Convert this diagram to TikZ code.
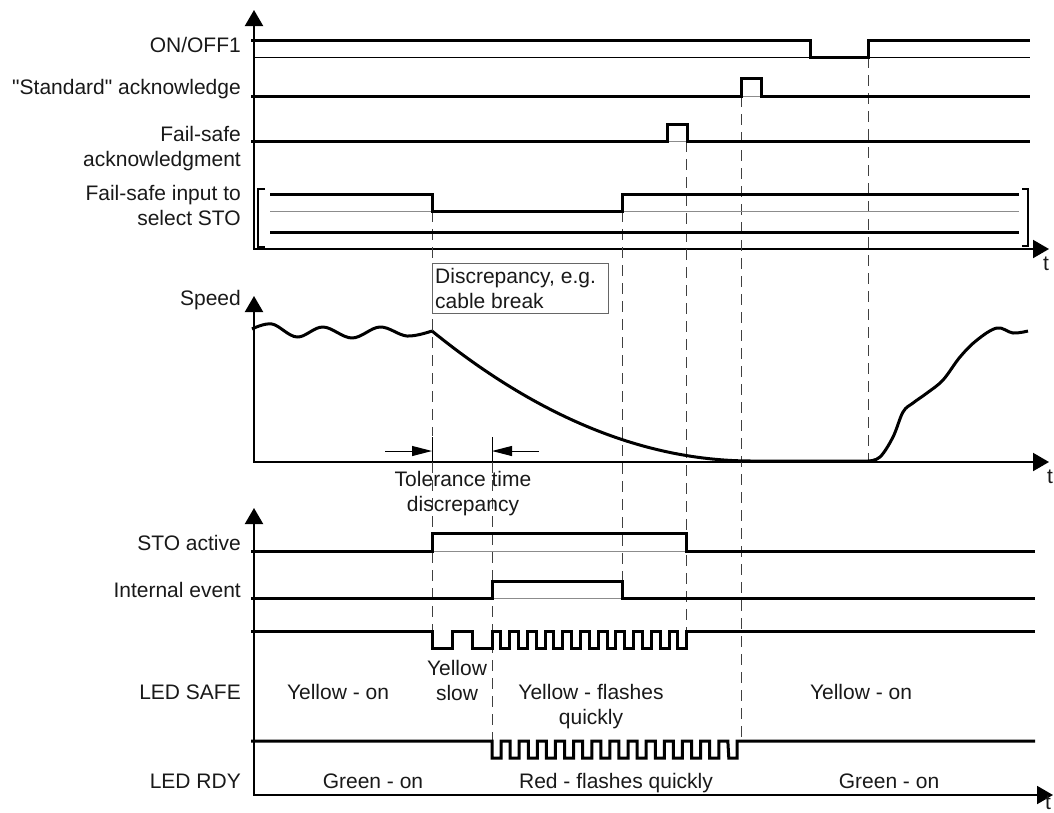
\documentclass[tikz,border=0pt]{standalone}
\usepackage{fontspec}
\setmainfont{Liberation Sans}[Ligatures=TeXOff]
\usetikzlibrary{arrows.meta}
\begin{document}
\begin{tikzpicture}[x=1pt,y=-1pt,
  every node/.style={font=\fontsize{21}{25}\selectfont, inner sep=0pt, text=black!90},
  sig/.style={line width=3pt, line join=miter, line cap=butt},
  ax/.style={line width=2pt},
  tri/.tip={Triangle[width=18pt,length=16pt]},
  dsh/.style={line width=1pt, black!75, dash pattern=on 11pt off 7pt},
  lowline/.style={line width=1pt, black!45},
  lbl/.style={anchor=base east},
  txt/.style={anchor=base},
  tol/.style={line width=1pt, -{Triangle[width=10pt,length=20pt]}}]
\useasboundingbox (0,0) rectangle (1054,812);

% ---------- axes ----------
\draw[ax, tri-tri] (254,10) -- (254,249) -- (1049,249);
\draw[ax, tri-tri] (254,296) -- (254,462) -- (1049,462);
\draw[ax, tri-tri] (254,508) -- (254,795) -- (1053,795);
\node[txt] (t1) at (1046,270) {t};
\node[txt] (t2) at (1050,483) {t};
\node[txt] (t3) at (1048,809) {t};

% ---------- dashed time markers ----------
\draw[dsh] (432,211) -- (432,436);
\draw[dsh] (432,462) -- (432,631);
\draw[dsh] (492,462) -- (492,740);
\draw[dsh] (622,211) -- (622,598);
\draw[dsh] (686,141) -- (686,631);
\draw[dsh] (741,96) -- (741,741);
\draw[dsh] (868,57) -- (868,462);

% ---------- top signals ----------
\node[lbl] (lon) at (241,52) {ON/OFF1};
\draw[line width=1pt] (254,57) -- (1030,57);
\draw[sig] (251,40) -- (810,40) -- (810,57) -- (868,57) -- (868,40) -- (1030,40);

\node[lbl] (lstd) at (241,94) {"Standard" acknowledge};
\draw[lowline] (741,96) -- (761,96);
\draw[sig] (251,96) -- (741,96) -- (741,78) -- (761,78) -- (761,96) -- (1030,96);

\node[lbl] (lfs1) at (241,141) {Fail-safe};
\node[lbl] (lfs2) at (241,166) {acknowledgment};
\draw[lowline] (667,141) -- (687,141);
\draw[sig] (251,141) -- (667,141) -- (667,124) -- (687,124) -- (687,141) -- (1030,141);

\node[lbl] (lsto1) at (241,200) {Fail-safe input to};
\node[lbl] (lsto2) at (241,225) {select STO};
\draw[lowline] (270,211) -- (1019,211);
\draw[sig] (270,194) -- (432,194) -- (432,211) -- (622,211) -- (622,194) -- (1019,194);
\draw[sig] (270,232) -- (1019,232);
\draw[line width=1.5pt] (265,189) -- (258,189) -- (258,247) -- (265,247);
\draw[line width=1.5pt] (1022,189) -- (1028,189) -- (1028,246) -- (1022,246);

% ---------- speed ----------
\node[lbl] (lspd) at (241,305) {Speed};
\draw[line width=3pt, line join=round] plot[smooth, tension=0.6] coordinates
  {(252,329) (272,324) (297,337) (323,327) (352,338) (380,327) (407,336) (432,331)};
\draw[line width=3pt, line join=round] (432,331) .. controls (538.7,417.7) and (645.3,461) .. (752,461) -- (868,461);
\draw[line width=3pt, line join=round] plot[smooth, tension=0.6] coordinates
  {(868,461) (880,457) (893,437) (903,412) (913,403) (927,393) (943,380) (960,357) (977,340) (997,328) (1013,333) (1028,331)};

\draw[line width=1pt, black!60] (432,263) rectangle (608,313);
\node[anchor=base west] (d1) at (435,283) {Discrepancy, e.g.};
\node[anchor=base west] (d2) at (435,308) {cable break};

\draw[line width=1pt] (432,437) -- (432,462);
\draw[line width=1pt] (492,437) -- (492,462);
\draw[tol] (385,451) -- (432,451);
\draw[tol] (539,451) -- (492,451);
\node[txt] (tt1) at (463,486) {Tolerance time};
\node[txt] (tt2) at (463,511) {discrepancy};

% ---------- STO active / internal event ----------
\node[lbl] (lsa) at (241,550) {STO active};
\draw[lowline] (432,551) -- (686,551);
\draw[sig] (251,551) -- (432,551) -- (432,533) -- (686,533) -- (686,551) -- (1035,551);

\node[lbl] (lie) at (241,597) {Internal event};
\draw[lowline] (492,598) -- (622,598);
\draw[sig] (251,598) -- (492,598) -- (492,581) -- (622,581) -- (622,598) -- (1035,598);

% ---------- LED SAFE ----------
\node[lbl] (lsafe) at (241,699) {LED SAFE};
\draw[sig] (251,631) -- (432,631) -- (432,648) -- (452,648) -- (452,631) -- (472,631) -- (472,648) -- (492,648) -- (492,631)
  \foreach \i in {0,...,10} {
    -- ({492+(2*\i+1)*8.85},631) -- ({492+(2*\i+1)*8.85},648)
    -- ({492+(2*\i+2)*8.85},648) -- ({492+(2*\i+2)*8.85},631) }
  -- (1035,631);
\node[txt] (ys1) at (338,699) {Yellow - on};
\node[txt] (ys2) at (457,675) {Yellow};
\node[txt] (ys3) at (457,700) {slow};
\node[txt] (ys4) at (591,699) {Yellow - flashes};
\node[txt] (ys5) at (591,724) {quickly};
\node[txt] (ys6) at (861,699) {Yellow - on};

% ---------- LED RDY ----------
\node[lbl] (lrdy) at (241,788) {LED RDY};
\draw[sig] (251,741) -- (492,741)
  \foreach \i in {0,...,12} {
    -- ({492+2*\i*9.07},758) -- ({492+(2*\i+1)*9.07},758)
    -- ({492+(2*\i+1)*9.07},741) -- ({492+(2*\i+2)*9.07},741) }
  -- (728.8,758) -- (737,758) -- (737,741) -- (1035,741);
\node[txt] (gr1) at (373,788) {Green - on};
\node[txt] (rd1) at (616,788) {Red - flashes quickly};
\node[txt] (gr2) at (889,788) {Green - on};
\end{tikzpicture}
\end{document}
